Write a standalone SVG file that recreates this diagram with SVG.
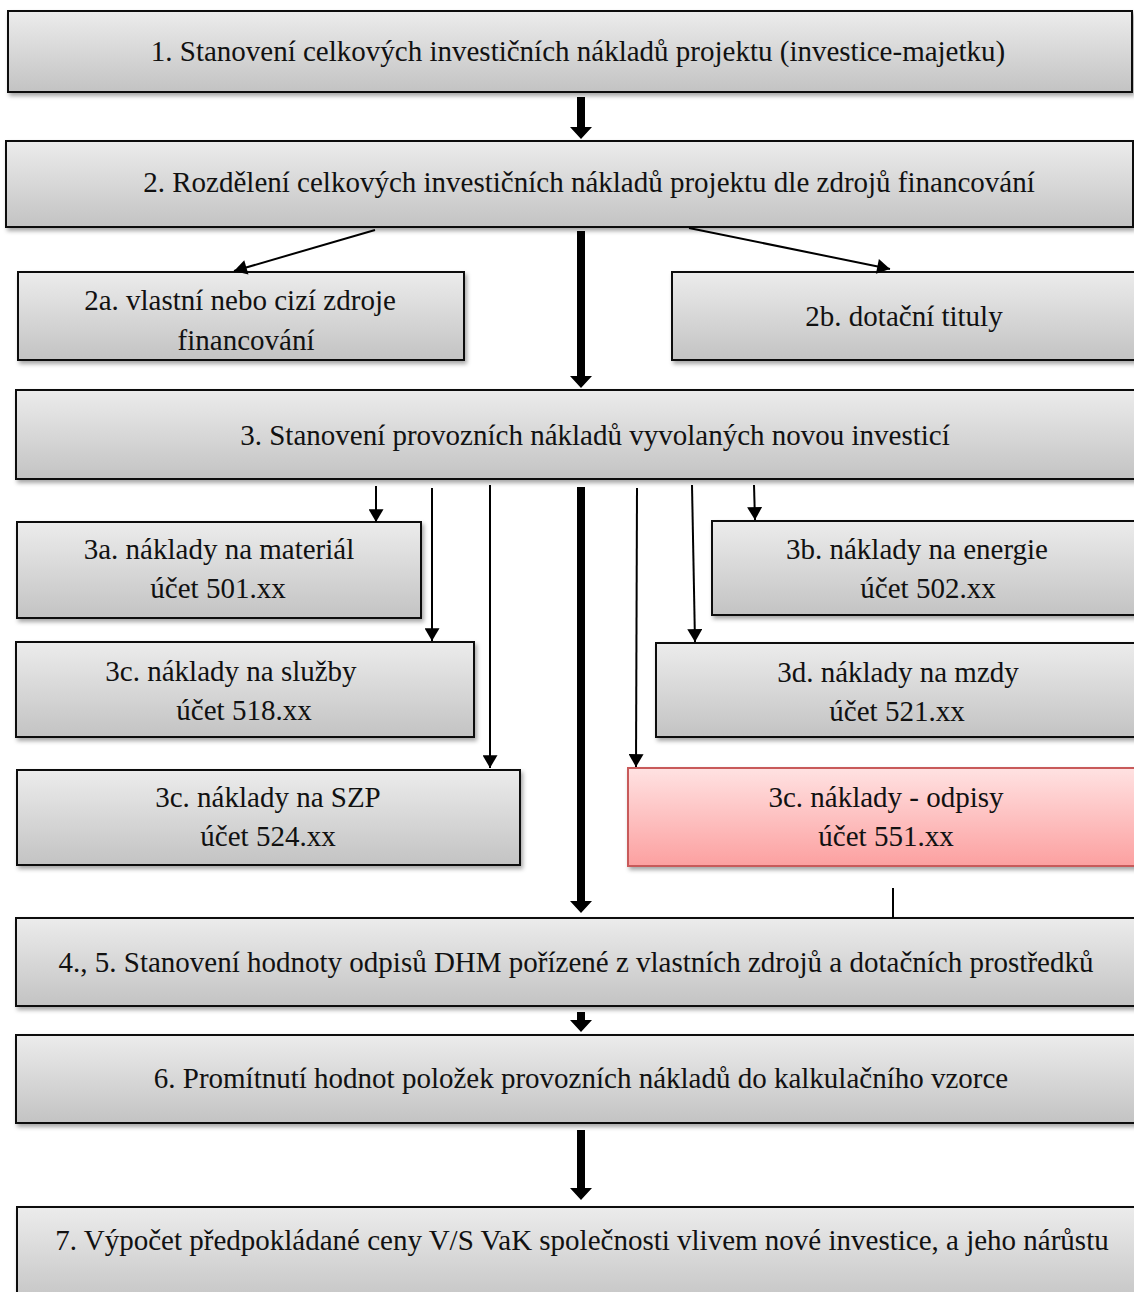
<svg xmlns="http://www.w3.org/2000/svg" width="1134" height="1292" viewBox="0 0 1134 1292">
<defs>
<linearGradient id="g" x1="0" y1="0" x2="0" y2="1"><stop offset="0" stop-color="#ececec"/><stop offset="1" stop-color="#c3c3c3"/></linearGradient>
<linearGradient id="r" x1="0" y1="0" x2="0" y2="1"><stop offset="0" stop-color="#ffe2e2"/><stop offset="1" stop-color="#fca0a0"/></linearGradient>
<filter id="sh" x="-5%" y="-10%" width="110%" height="130%"><feDropShadow dx="2" dy="3" stdDeviation="2" flood-color="#000" flood-opacity="0.35"/></filter>
<marker id="ah" viewBox="0 0 12 14" refX="12" refY="7" markerWidth="15" markerHeight="15" markerUnits="userSpaceOnUse" orient="auto"><path d="M0,0 L12,7 L0,14 Z" fill="#000"/></marker>
</defs>
<style>
.b{fill:url(#g);stroke:#111;stroke-width:2;filter:url(#sh)}
.rb{fill:url(#r);stroke:#c85a5a;stroke-width:2;filter:url(#sh)}
text{font-family:"Liberation Serif","Times New Roman",serif;font-size:29px;fill:#111;text-anchor:middle}
.t{stroke:#000;stroke-width:2;fill:none}
.ta{stroke:#000;stroke-width:2;fill:none;marker-end:url(#ah)}
.k{fill:#000}
</style>
<g id="n1"><rect class="b" x="8" y="11" width="1124" height="81"/><text x="578" y="61">1. Stanovení celkových investičních nákladů projektu (investice-majetku)</text></g>
<g id="n2"><rect class="b" x="6" y="141" width="1127" height="86"/><text x="589" y="192">2. Rozdělení celkových investičních nákladů projektu dle zdrojů financování</text></g>
<g id="n2a"><rect class="b" x="18" y="272" width="446" height="88"/><text x="240" y="310">2a. vlastní nebo cizí zdroje</text><text x="246" y="350">financování</text></g>
<g id="n2b"><rect class="b" x="672" y="272" width="470" height="88"/><text x="904" y="326">2b. dotační tituly</text></g>
<g id="n3"><rect class="b" x="16" y="390" width="1126" height="89"/><text x="595" y="445">3. Stanovení provozních nákladů vyvolaných novou investicí</text></g>
<g id="n3a"><rect class="b" x="17" y="522" width="404" height="96"/><text x="219" y="559">3a. náklady na materiál</text><text x="218" y="598">účet 501.xx</text></g>
<g id="n3b"><rect class="b" x="712" y="521" width="430" height="94"/><text x="917" y="559">3b. náklady na energie</text><text x="928" y="598">účet 502.xx</text></g>
<g id="n3c1"><rect class="b" x="16" y="642" width="458" height="95"/><text x="231" y="681">3c. náklady na služby</text><text x="244" y="720">účet 518.xx</text></g>
<g id="n3d"><rect class="b" x="656" y="643" width="486" height="94"/><text x="898" y="682">3d. náklady na mzdy</text><text x="897" y="721">účet 521.xx</text></g>
<g id="n3c2"><rect class="b" x="17" y="770" width="503" height="95"/><text x="268" y="807">3c. náklady na SZP</text><text x="268" y="846">účet 524.xx</text></g>
<g id="n3c3"><rect class="rb" x="628" y="768" width="514" height="98"/><text x="886" y="807">3c. náklady - odpisy</text><text x="886" y="846">účet 551.xx</text></g>
<g id="n4"><rect class="b" x="16" y="918" width="1126" height="88"/><text x="576" y="972">4., 5. Stanovení hodnoty odpisů DHM pořízené z vlastních zdrojů a dotačních prostředků</text></g>
<g id="n6"><rect class="b" x="16" y="1035" width="1126" height="88"/><text x="581" y="1088">6. Promítnutí hodnot položek provozních nákladů do kalkulačního vzorce</text></g>
<g id="n7"><rect class="b" x="17" y="1207" width="1126" height="100"/><text x="582" y="1250">7. Výpočet předpokládané ceny V/S VaK společnosti vlivem nové investice, a jeho nárůstu</text></g>
<g id="connectors">
<path class="k" d="M577,97 H585 V127 H592 L581,139 L570,127 H577 Z"/>
<path class="k" d="M577,231 H585 V376 H592 L581,388 L570,376 H577 Z"/>
<path class="k" d="M577,487 H585 V901 H592 L581,913 L570,901 H577 Z"/>
<path class="k" d="M577,1012 H585 V1020 H592 L581,1032 L570,1020 H577 Z"/>
<path class="k" d="M577,1130 H585 V1188 H592 L581,1200 L570,1188 H577 Z"/>
<line class="ta" x1="375" y1="230" x2="234" y2="271"/>
<line class="ta" x1="689" y1="228" x2="890" y2="269"/>
<line class="ta" x1="376" y1="486" x2="376" y2="522"/>
<line class="ta" x1="432" y1="488" x2="432" y2="641"/>
<line class="ta" x1="490" y1="485" x2="490" y2="768"/>
<line class="ta" x1="637" y1="488" x2="636" y2="767"/>
<line class="ta" x1="692" y1="485" x2="695" y2="642"/>
<line class="ta" x1="754" y1="485" x2="755" y2="520"/>
<line class="t" x1="893" y1="888" x2="893" y2="918"/>
</g>
</svg>
